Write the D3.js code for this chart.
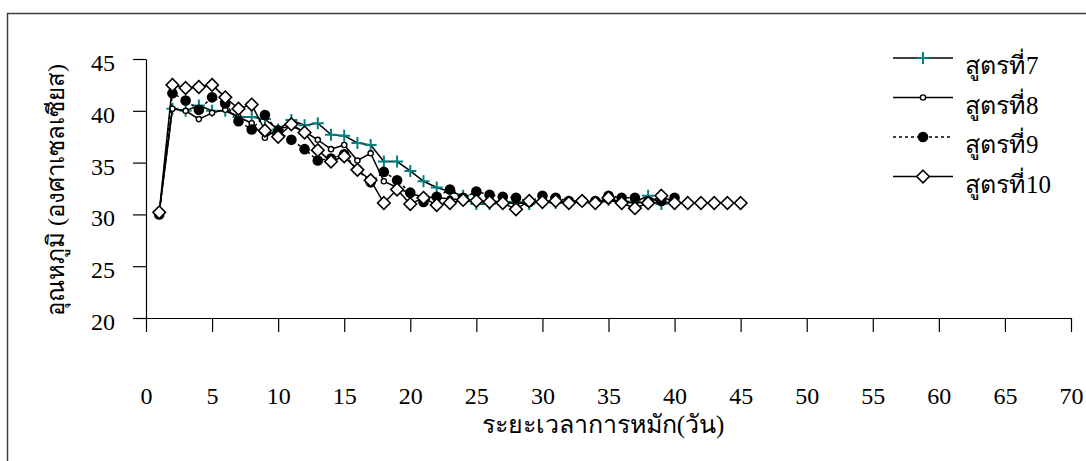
<!DOCTYPE html>
<html lang="th">
<head>
    <meta charset="UTF-8">
    <title>อุณหภูมิ สูตรที่ 7-10</title>
    <script src="https://d3js.org/d3.v7.min.js"></script>
    <style>
        body {
            margin: 0;
            background: #fff;
        }
        svg text {
            font-family: "Liberation Serif", "Times New Roman", Times, serif;
            fill: #000;
        }
        .tick line, .domain {
            stroke: #000;
        }
    </style>
</head>
<body>
    <svg width="1086" height="461"></svg>
    <script>
        // วันที่ (days)
        const days = [1, 2, 3, 4, 5, 6, 7, 8, 9, 10, 11, 12, 13, 14, 15, 16, 17, 18, 19, 20,
                      21, 22, 23, 24, 25, 26, 27, 28, 29, 30, 31, 32, 33, 34, 35, 36, 37, 38, 39, 40,
                      41, 42, 43, 44, 45];

        const formula7 = [30.2, 40.2, 40.0, 40.5, 40.0, 40.0, 39.4, 39.4, 39.2, 38.2,
                          39.1, 38.6, 38.8, 37.7, 37.6, 36.9, 36.7, 35.1, 35.1, 34.2,
                          33.2, 32.6, 32.2, 31.8, 31.0, 31.0, 31.2, 31.2, 31.0, 31.3,
                          31.1, 31.2, 31.3, 31.2, 31.4, 31.3, 31.2, 31.8, 31.0, 31.2];
        const formula8 = [30.2, 40.2, 40.0, 39.2, 39.8, 40.1, 39.4, 38.8, 37.4, 38.3,
                          38.5, 38.0, 37.2, 36.3, 36.7, 35.2, 35.9, 33.2, 32.6, 32.0,
                          31.7, 31.6, 31.5, 31.4, 31.2, 31.3, 31.2, 31.0, 31.2, 31.3,
                          31.2, 31.1, 31.2, 31.1, 31.3, 31.2, 31.1, 31.2, 31.1, 31.2];
        const formula9 = [30.0, 41.7, 41.0, 40.1, 41.3, 40.7, 39.0, 38.2, 39.6, 38.0,
                          37.2, 36.3, 35.2, 35.4, 35.8, 34.3, 33.1, 34.1, 33.3, 32.1,
                          31.2, 31.7, 32.4, 31.6, 32.2, 31.9, 31.7, 31.6, 31.2, 31.8,
                          31.6, 31.3, 31.3, 31.3, 31.8, 31.6, 31.6, 31.2, 31.3, 31.6];
        const formula10 = [30.2, 42.5, 42.2, 42.3, 42.5, 41.3, 40.2, 40.6, 38.1, 37.5,
                           38.7, 37.9, 36.2, 35.1, 35.6, 34.3, 33.3, 31.1, 32.4, 31.0,
                           31.6, 30.9, 31.1, 31.4, 31.3, 31.2, 31.1, 30.5, 31.3, 31.2,
                           31.3, 31.1, 31.3, 31.1, 31.6, 31.1, 30.6, 31.1, 31.8, 31.1,
                           31.1, 31.1, 31.1, 31.1, 31.1];

        const seriesLabel = "สูตรที่";
        const seriesNumbers = ["7", "8", "9", "10"];
        const xTicks = [0, 5, 10, 15, 20, 25, 30, 35, 40, 45, 50, 55, 60, 65, 70];
        const yTicks = [20, 25, 30, 35, 40, 45];

        const serif = '"Liberation Serif", "Times New Roman", Times, serif';

        const series = [
            { num: seriesNumbers[0], values: formula7, marker: "plus", dash: null },
            { num: seriesNumbers[1], values: formula8, marker: "open", dash: null },
            { num: seriesNumbers[2], values: formula9, marker: "filled", dash: "3,3" },
            { num: seriesNumbers[3], values: formula10, marker: "diamond", dash: null }
        ];

        const svg = d3.select("svg");

        // chart area frame (only top and left edge fall inside the picture)
        svg.append("rect")
            .attr("x", 7.5).attr("y", 13.5)
            .attr("width", 1200).attr("height", 600)
            .attr("fill", "none")
            .attr("stroke", "#404040")
            .attr("stroke-width", 1.5);

        const x = d3.scaleLinear().domain([0, 70]).range([146, 1071]);
        const y = d3.scaleLinear().domain([20, 45]).range([318, 59]);

        // axes
        const xAxis = svg.append("g")
            .attr("transform", "translate(0," + y(20) + ")")
            .call(d3.axisBottom(x).tickValues(xTicks).tickSize(14).tickSizeOuter(0));
        xAxis.selectAll("text")
            .attr("y", 86).attr("dy", 0)
            .style("font-family", serif)
            .style("font-size", "24px");

        const yAxis = svg.append("g")
            .attr("transform", "translate(" + x(0) + ",0)")
            .call(d3.axisLeft(y).tickValues(yTicks).tickSize(13).tickSizeOuter(0));
        yAxis.selectAll("text")
            .attr("x", -31).attr("dy", "0.48em")
            .style("font-family", serif)
            .style("font-size", "24px");

        svg.selectAll(".domain, .tick line").attr("stroke-width", 1.2);

        // axis titles
        svg.append("text")
            .attr("x", 603).attr("y", 433)
            .attr("text-anchor", "middle")
            .style("font-family", serif)
            .style("font-size", "25px")
            .text("ระยะเวลาการหมัก(วัน)");

        svg.append("text")
            .attr("transform", "translate(64," + 190 + ") rotate(-90)")
            .attr("text-anchor", "middle")
            .style("font-family", serif)
            .style("font-size", "24px")
            .text("อุณหภูมิ (องศาเซลเซียส)");

        function drawMarker(g, type, cx, cy) {
            if (type === "plus") {
                g.append("path")
                    .attr("d", "M" + (cx - 6) + "," + cy + "H" + (cx + 6) + "M" + cx + "," + (cy - 6) + "V" + (cy + 6))
                    .attr("stroke", "#008080").attr("stroke-width", 2).attr("fill", "none");
            } else if (type === "open") {
                g.append("circle").attr("cx", cx).attr("cy", cy).attr("r", 2.6)
                    .attr("fill", "#fff").attr("stroke", "#000").attr("stroke-width", 1.4);
            } else if (type === "filled") {
                g.append("circle").attr("cx", cx).attr("cy", cy).attr("r", 5.3)
                    .attr("fill", "#000");
            } else {
                const s = 6.3;
                g.append("path")
                    .attr("d", "M" + cx + "," + (cy - s) + "L" + (cx + s) + "," + cy + "L" + cx + "," + (cy + s) + "L" + (cx - s) + "," + cy + "Z")
                    .attr("fill", "#fff").attr("stroke", "#000").attr("stroke-width", 1.6);
            }
        }

        const line = d3.line()
            .x(function(d, i) { return x(days[i]); })
            .y(function(d) { return y(d); });

        series.forEach(function(s) {
            const g = svg.append("g");
            g.append("path")
                .datum(s.values)
                .attr("d", line)
                .attr("fill", "none")
                .attr("stroke", "#000")
                .attr("stroke-width", 1.5)
                .attr("stroke-dasharray", s.dash);
            s.values.forEach(function(v, i) {
                drawMarker(g, s.marker, x(days[i]), y(v));
            });
        });

        // legend: thai word and the number as separate texts so the digits stay serif
        const legend = svg.append("g");
        series.forEach(function(s, i) {
            const ly = 58 + i * 39.5;
            legend.append("line")
                .attr("x1", 893).attr("x2", 953)
                .attr("y1", ly).attr("y2", ly)
                .attr("stroke", "#000").attr("stroke-width", 1.5)
                .attr("stroke-dasharray", s.dash);
            drawMarker(legend, s.marker, 923, ly);
            const word = legend.append("text")
                .attr("x", 965).attr("y", ly + 16)
                .style("font-family", serif)
                .style("font-size", "25px")
                .text(seriesLabel);
            const w = word.node().getComputedTextLength();
            legend.append("text")
                .attr("x", 965 + w + 1).attr("y", ly + 16)
                .style("font-family", serif)
                .style("font-size", "25px")
                .text(s.num);
        });
    </script>
</body>
</html>
